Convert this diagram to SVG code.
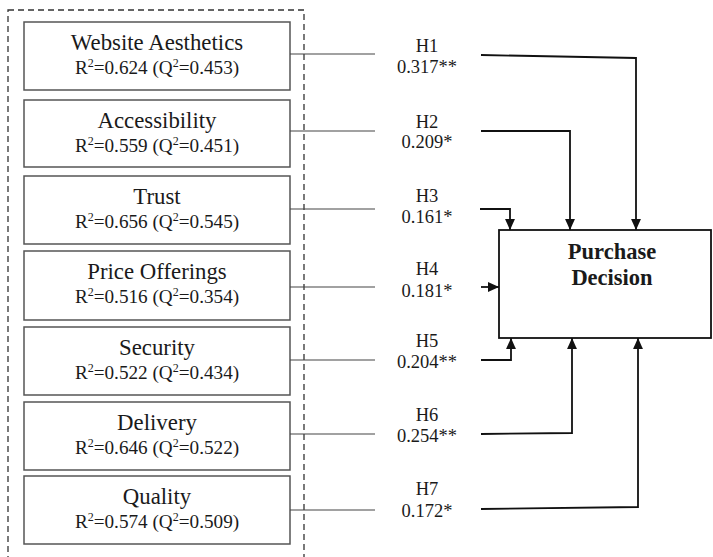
<svg xmlns="http://www.w3.org/2000/svg" width="713" height="557" viewBox="0 0 713 557">
<defs>
<marker id="ah" viewBox="0 0 10 10" refX="10" refY="5" markerWidth="11" markerHeight="11" markerUnits="userSpaceOnUse" orient="auto">
<path d="M0,0.5 L10,5 L0,9.5 z" fill="#111"/>
</marker>
<style>
text{font-family:"Liberation Serif","Times New Roman",serif;fill:#1a1a1a;text-anchor:middle}
.t{font-size:22.8px}
.r{font-size:19.2px}
.s{font-size:12px}
.h{font-size:18.5px}
.box{fill:#fff;stroke:#555;stroke-width:1.5}
.thin{fill:none;stroke:#444;stroke-width:1.2}
.thick{fill:none;stroke:#111;stroke-width:1.8}
.pd{font-size:22.5px;font-weight:bold}
</style>
</defs>
<rect x="8" y="10" width="296" height="560" fill="none" stroke="#333" stroke-width="1.3" stroke-dasharray="6,4"/>
<g id="n1"><rect class="box" x="24" y="22" width="266" height="68"/><text class="t" x="157" y="50">Website Aesthetics</text><text class="r" x="157" y="74">R<tspan class="s" dy="-7">2</tspan><tspan dy="7">=0.624 (Q</tspan><tspan class="s" dy="-7">2</tspan><tspan dy="7">=0.453)</tspan></text></g>
<g id="n2"><rect class="box" x="24" y="100" width="266" height="67"/><text class="t" x="157" y="128">Accessibility</text><text class="r" x="157" y="152">R<tspan class="s" dy="-7">2</tspan><tspan dy="7">=0.559 (Q</tspan><tspan class="s" dy="-7">2</tspan><tspan dy="7">=0.451)</tspan></text></g>
<g id="n3"><rect class="box" x="24" y="176" width="266" height="68"/><text class="t" x="157" y="204">Trust</text><text class="r" x="157" y="228">R<tspan class="s" dy="-7">2</tspan><tspan dy="7">=0.656 (Q</tspan><tspan class="s" dy="-7">2</tspan><tspan dy="7">=0.545)</tspan></text></g>
<g id="n4"><rect class="box" x="24" y="251" width="266" height="69"/><text class="t" x="157" y="279">Price Offerings</text><text class="r" x="157" y="303">R<tspan class="s" dy="-7">2</tspan><tspan dy="7">=0.516 (Q</tspan><tspan class="s" dy="-7">2</tspan><tspan dy="7">=0.354)</tspan></text></g>
<g id="n5"><rect class="box" x="24" y="327" width="266" height="68"/><text class="t" x="157" y="355">Security</text><text class="r" x="157" y="379">R<tspan class="s" dy="-7">2</tspan><tspan dy="7">=0.522 (Q</tspan><tspan class="s" dy="-7">2</tspan><tspan dy="7">=0.434)</tspan></text></g>
<g id="n6"><rect class="box" x="24" y="402" width="266" height="68"/><text class="t" x="157" y="430">Delivery</text><text class="r" x="157" y="454">R<tspan class="s" dy="-7">2</tspan><tspan dy="7">=0.646 (Q</tspan><tspan class="s" dy="-7">2</tspan><tspan dy="7">=0.522)</tspan></text></g>
<g id="n7"><rect class="box" x="24" y="476" width="266" height="68"/><text class="t" x="157" y="504">Quality</text><text class="r" x="157" y="528">R<tspan class="s" dy="-7">2</tspan><tspan dy="7">=0.574 (Q</tspan><tspan class="s" dy="-7">2</tspan><tspan dy="7">=0.509)</tspan></text></g>
<g id="pd"><rect x="499" y="230" width="212" height="108" fill="#fff" stroke="#111" stroke-width="1.8"/><text class="pd" x="612" y="259">Purchase</text><text class="pd" x="612" y="285">Decision</text></g>
<g id="connectors">
<path class="thin" d="M290,54 H375 M290,131 H375 M290,209 H375 M290,287 H375 M290,360 H375 M290,434 H375 M290,510 H375"/>
<path class="thick" marker-end="url(#ah)" d="M481,55 L636,58 V230"/>
<path class="thick" marker-end="url(#ah)" d="M481,131 H570 V230"/>
<path class="thick" marker-end="url(#ah)" d="M480,209 H510 V230"/>
<path class="thick" marker-end="url(#ah)" d="M481,287 H499"/>
<path class="thick" marker-end="url(#ah)" d="M481,360 H511 V338"/>
<path class="thick" marker-end="url(#ah)" d="M481,434 L572,433 V338"/>
<path class="thick" marker-end="url(#ah)" d="M481,509 L638,507 V338"/>
</g>
<g id="labels">
<text class="h" x="427" y="52">H1</text><text class="h" x="427" y="73">0.317**</text>
<text class="h" x="427" y="128">H2</text><text class="h" x="427" y="148">0.209*</text>
<text class="h" x="427" y="202">H3</text><text class="h" x="427" y="223">0.161*</text>
<text class="h" x="427" y="275">H4</text><text class="h" x="427" y="297">0.181*</text>
<text class="h" x="427" y="347">H5</text><text class="h" x="427" y="368">0.204**</text>
<text class="h" x="427" y="421">H6</text><text class="h" x="427" y="442">0.254**</text>
<text class="h" x="427" y="495">H7</text><text class="h" x="427" y="517">0.172*</text>
</g>
</svg>
